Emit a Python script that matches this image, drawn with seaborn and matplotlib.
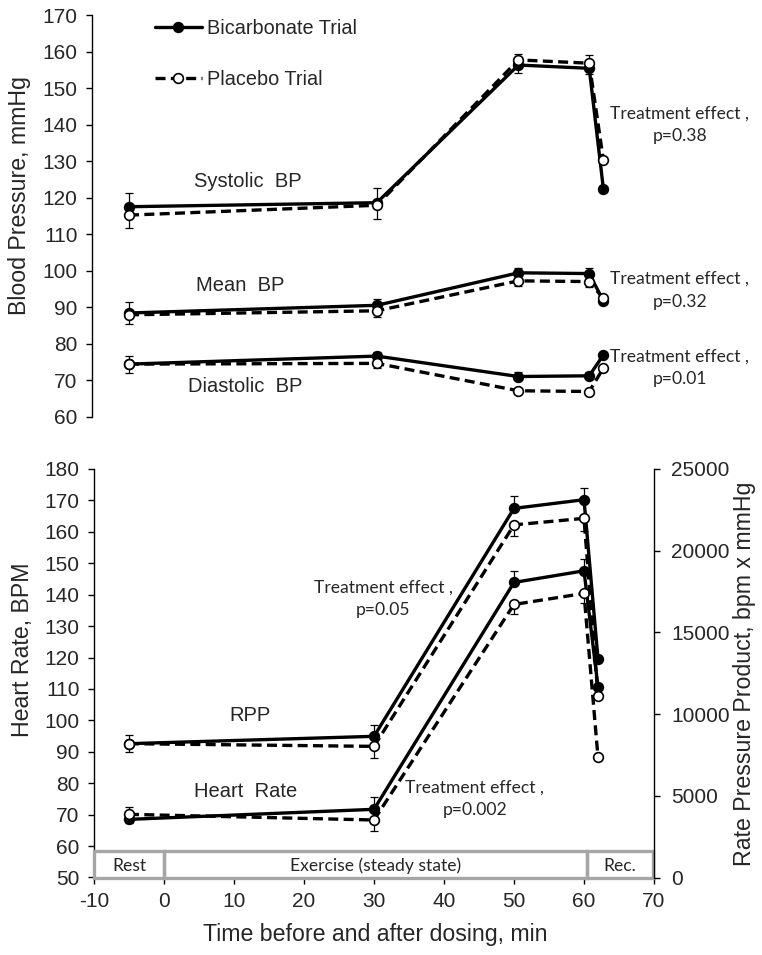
import numpy as np
import matplotlib
matplotlib.use("Agg")
import matplotlib.pyplot as plt
from matplotlib.patches import Rectangle
import seaborn as sns

# time points (min); last one is recovery
time = [-5, 30, 50, 60, 62]

# blood pressure, mmHg
sbp_bicarb = [117.5, 118.6, 156.3, 155.4, 122.4]
sbp_placebo = [115.2, 117.9, 157.7, 156.8, 130.3]
sbp_bicarb_se = [3.8, 4.0, 3.0, 3.6, 0]
sbp_placebo_se = [3.5, 3.8, 3.5, 3.0, 0]

map_bicarb = [88.4, 90.5, 99.4, 99.2, 91.7]
map_placebo = [87.9, 89.0, 97.2, 97.0, 92.4]
map_bicarb_se = [3.1, 1.7, 1.4, 1.5, 0]
map_placebo_se = [2.5, 1.8, 1.5, 1.5, 0]

dbp_bicarb = [74.4, 76.6, 71.0, 71.2, 76.9]
dbp_placebo = [74.4, 74.6, 67.1, 66.9, 73.3]
dbp_bicarb_se = [2.3, 1.2, 1.2, 1.0, 0]
dbp_placebo_se = [2.3, 1.2, 1.0, 1.0, 0]

# heart rate, bpm
hr_bicarb = [68.5, 71.7, 143.9, 147.6, 110.7]
hr_placebo = [70.1, 68.3, 136.9, 140.4, 88.2]
hr_bicarb_se = [3.8, 3.8, 3.7, 3.7, 0]
hr_placebo_se = [2.9, 3.5, 3.1, 3.0, 0]

# rate pressure product, bpm x mmHg
rpp_bicarb = [8190, 8640, 22590, 23120, 13390]
rpp_placebo = [8190, 8025, 21580, 21980, 11090]
rpp_bicarb_se = [550, 720, 770, 720, 0]
rpp_placebo_se = [530, 710, 710, 750, 0]

labels = ["Bicarbonate Trial", "Placebo Trial"]

sns.set_style("ticks")
plt.rcParams["font.family"] = ["Liberation Sans", "DejaVu Sans"]
plt.rcParams["axes.unicode_minus"] = False
calibri = ["Lato", "DejaVu Sans"]

fig = plt.figure(figsize=(7.62, 9.55), dpi=100)
ax_bp = fig.add_axes([92 / 762, 1 - 416.7 / 955, 562 / 762, 401.7 / 955])
ax_hr = fig.add_axes([94 / 762, 1 - 877.5 / 955, 560 / 762, 408.5 / 955])
ax_rpp = ax_hr.twinx()


def draw_pair(ax, yb, yp, seb, sep, with_label=False):
    n = len(time) - 1
    ax.errorbar(time[:n], yb[:n], yerr=[np.zeros(n), seb[:n]], fmt="none",
                ecolor="k", elinewidth=0.9, capsize=2.8, capthick=0.9, zorder=1)
    ax.errorbar(time[:n], yp[:n], yerr=[sep[:n], np.zeros(n)], fmt="none",
                ecolor="k", elinewidth=0.9, capsize=2.8, capthick=0.9, zorder=1)
    sns.lineplot(x=time, y=yb, ax=ax, color="k", lw=2.4, marker="o", ms=7,
                 mfc="k", mec="k", mew=1.2, zorder=3,
                 label=labels[0] if with_label else None, legend=False)
    sns.lineplot(x=time, y=yp, ax=ax, color="k", lw=2.4, linestyle=(0, (3, 1.6)),
                 marker="o", ms=7, mfc="white", mec="k", mew=1.2, zorder=3,
                 label=labels[1] if with_label else None, legend=False)


# ---- top panel: blood pressure
draw_pair(ax_bp, sbp_bicarb, sbp_placebo, sbp_bicarb_se, sbp_placebo_se, True)
draw_pair(ax_bp, map_bicarb, map_placebo, map_bicarb_se, map_placebo_se)
draw_pair(ax_bp, dbp_bicarb, dbp_placebo, dbp_bicarb_se, dbp_placebo_se)

ax_bp.set_xlim(-10.23, 69.15)
ax_bp.set_ylim(60, 170)
ax_bp.set_yticks(range(60, 171, 10))
ax_bp.set_xticks([])
for s in ["top", "right", "bottom"]:
    ax_bp.spines[s].set_visible(False)
ax_bp.set_ylabel("Blood Pressure, mmHg", fontsize=16.7)
ax_bp.yaxis.set_label_coords(-0.108, 0.55)

lab_kw = dict(ha="center", va="center", fontsize=14.5)
ax_bp.text(11.8, 124.3, "Systolic  BP", **lab_kw)
ax_bp.text(10.7, 95.9, "Mean  BP", **lab_kw)
ax_bp.text(11.4, 68.3, "Diastolic  BP", **lab_kw)

te_kw = dict(ha="center", va="center", fontsize=12.6, family=calibri,
             linespacing=1.5, clip_on=False)
ax_bp.text(72.8, 140.0, "Treatment effect ,\np=0.38", **te_kw)
ax_bp.text(72.8, 94.6, "Treatment effect ,\np=0.32", **te_kw)
ax_bp.text(72.8, 73.3, "Treatment effect ,\np=0.01", **te_kw)

leg = ax_bp.legend(loc="upper left", bbox_to_anchor=(0.112, 0.99), frameon=False,
                   fontsize=14.3, handlelength=2.35, handletextpad=0.25,
                   labelspacing=1.6, borderpad=0, borderaxespad=0)

# ---- bottom panel: heart rate and RPP
draw_pair(ax_hr, hr_bicarb, hr_placebo, hr_bicarb_se, hr_placebo_se)
draw_pair(ax_rpp, rpp_bicarb, rpp_placebo, rpp_bicarb_se, rpp_placebo_se)

ax_hr.set_xlim(-10, 70)
ax_hr.set_ylim(50, 180)
ax_hr.set_yticks(range(50, 181, 10))
ax_hr.set_xticks(range(-10, 71, 10))
ax_rpp.set_ylim(0, 25000)
ax_rpp.set_yticks(range(0, 25001, 5000))

ax_hr.spines["top"].set_visible(False)
ax_hr.spines["right"].set_visible(False)
ax_rpp.spines["top"].set_visible(False)
ax_rpp.spines["left"].set_visible(False)
ax_rpp.spines["bottom"].set_visible(False)

ax_hr.set_ylabel("Heart Rate, BPM", fontsize=16.7)
ax_hr.yaxis.set_label_coords(-0.108, 0.557)
ax_rpp.set_ylabel("Rate Pressure Product, bpm x mmHg", fontsize=16.7, rotation=90)
ax_rpp.yaxis.set_label_coords(1.141, 0.498)
ax_hr.set_xlabel("Time before and after dosing, min", fontsize=16.7)
ax_hr.xaxis.set_label_coords(0.502, -0.112)

ax_hr.text(31.3, 138.8, "Treatment effect ,\np=0.05", **te_kw)
ax_hr.text(44.4, 75.0, "Treatment effect ,\np=0.002", **te_kw)
ax_hr.text(12.3, 101.5, "RPP", **lab_kw)
ax_hr.text(11.6, 77.5, "Heart  Rate", **lab_kw)

# phase boxes along the bottom
gray = "#a6a6a6"
phases = [("Rest", -10, 10), ("Exercise (steady state)", 0, 60.4), ("Rec.", 60.4, 9.4)]
for name, x0, w in phases:
    ax_hr.add_patch(Rectangle((x0, 50), w, 8.5, fill=False, ec=gray, lw=2.4,
                              clip_on=False, zorder=4))
    ax_hr.text(x0 + w / 2, 53.8, name, ha="center", va="center", fontsize=12.6,
               family=calibri)

for ax in [ax_bp, ax_hr, ax_rpp]:
    for s in ax.spines.values():
        s.set_color("k")
        s.set_linewidth(1.0)
    ax.tick_params(direction="out", length=4, width=1, color="k",
                   labelsize=15, pad=6.5)
ax_rpp.tick_params(pad=8.5)

fig.savefig("out.png", dpi=100)
